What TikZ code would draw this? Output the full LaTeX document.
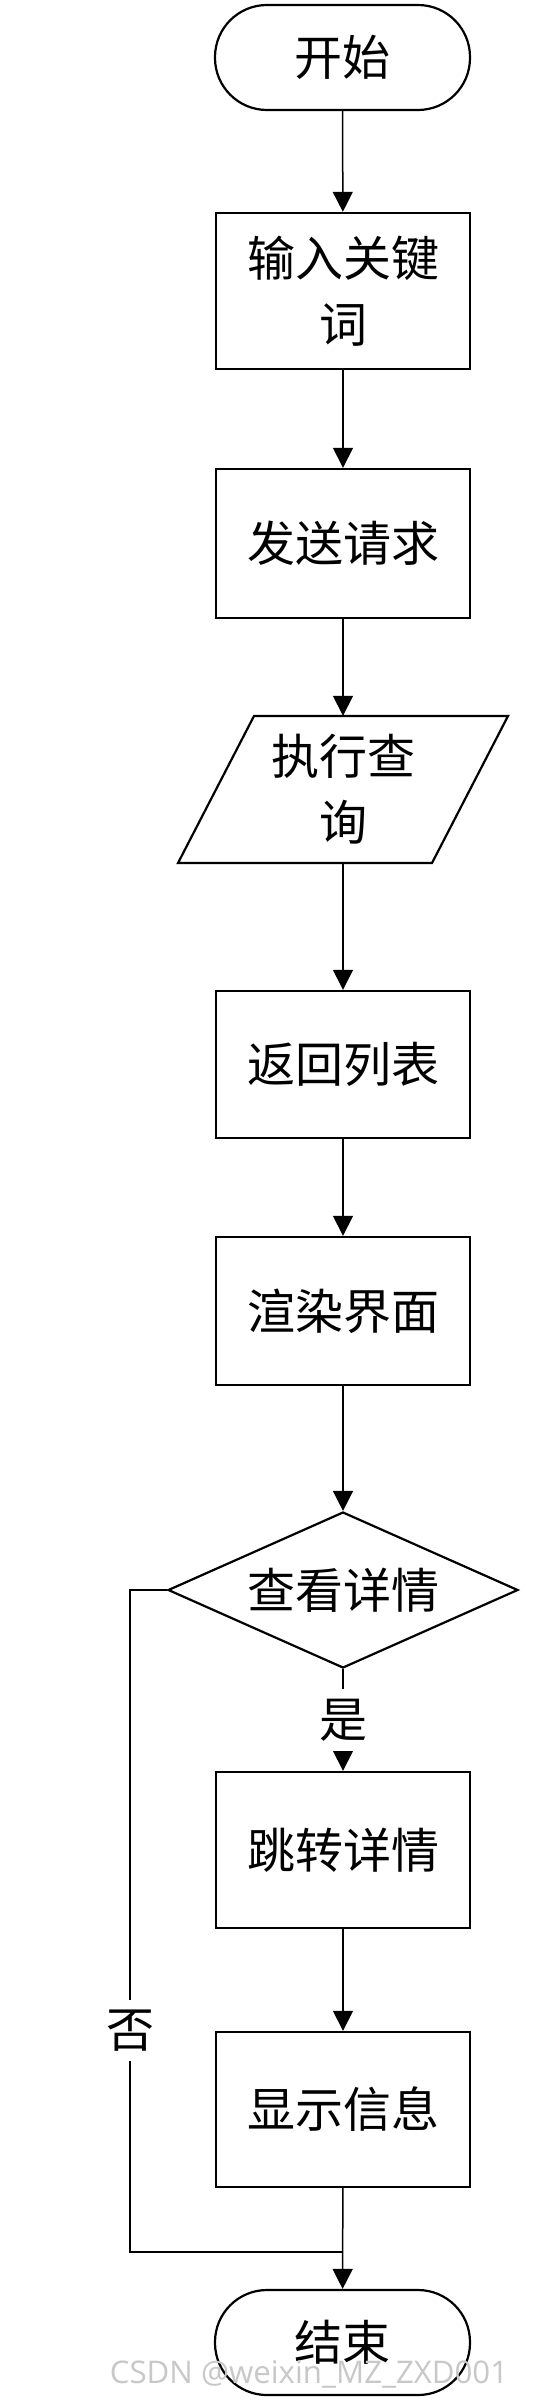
\documentclass[tikz,border=0pt]{standalone}
\usepackage{fontspec}
\newfontfamily\cjk{Noto Sans CJK SC}
\newfontfamily\wmfont{Open Sans}
\usetikzlibrary{arrows.meta,shapes.geometric}
\definecolor{wmgray}{RGB}{200,200,200}
\tikzset{
  txt/.style={font=\cjk\fontsize{48}{66}\selectfont, align=center, inner sep=0pt},
  procbox/.style={txt, draw, line width=2.4pt, minimum width=254pt},
  termbox/.style={txt, draw, line width=2.2pt, rounded corners=52pt, minimum width=255pt, minimum height=105pt},
  decbox/.style={txt, draw, diamond, line width=2.2pt, aspect=2.24, minimum width=350pt, minimum height=156pt},
  conn/.style={line width=1.5pt},
  arr/.style={conn, -{Triangle[length=20pt,width=20pt]}},
  lab/.style={font=\cjk\fontsize{48}{48}\selectfont, fill=white, inner xsep=2pt, inner ysep=10pt}
}
\begin{document}
\begin{tikzpicture}[x=1pt,y=-1pt]
\useasboundingbox (0,0) rectangle (535,2400);
\fill[white] (0,0) rectangle (535,2400);

\node[termbox] (start) at (342.5,57.5) {开始};
\node[procbox, minimum height=156pt] (kw) at (343,291) {输入关键\\词};
\node[procbox, minimum height=149pt] (send) at (343,543.5) {发送请求};
\node[txt, minimum width=254pt, minimum height=147pt] (query) at (343,789.5) {执行查\\询};
\draw[line width=2.2pt, line join=miter] (254,716) -- (508,716) -- (432,863) -- (178,863) -- cycle;
\node[procbox, minimum height=147pt] (list) at (343,1064.5) {返回列表};
\node[procbox, minimum height=148pt] (render) at (343,1311) {渲染界面};
\node[decbox] (dec) at (343,1590) {查看详情};
\node[procbox, minimum height=156pt] (jump) at (343,1850) {跳转详情};
\node[procbox, minimum height=155pt] (show) at (343,2109.5) {显示信息};
\node[termbox] (stop) at (342.5,2342.5) {结束};

\coordinate (L1) at (130,1590);
\coordinate (L2) at (130,2252);
\coordinate (J) at (343,2252);

\draw[arr] (start) -- (kw);
\draw[arr] (kw) -- (send);
\draw[arr] (send) -- (query);
\draw[arr] (query) -- (list);
\draw[arr] (list) -- (render);
\draw[arr] (render) -- (dec);
\draw[arr] (dec) -- node[lab] {是} (jump);
\draw[arr] (jump) -- (show);
\draw[arr] (show) -- (stop);
\draw[conn] (dec.west) -- (L1) -- node[lab, pos=0.665] {否} (L2) -- (J);

\node[font=\wmfont\fontsize{31.2}{31.2}\selectfont, text=wmgray, anchor=base, inner sep=0pt] (wm) at (309,2383) {CSDN @weixin\_MZ\_ZXD001};
\end{tikzpicture}
\end{document}
